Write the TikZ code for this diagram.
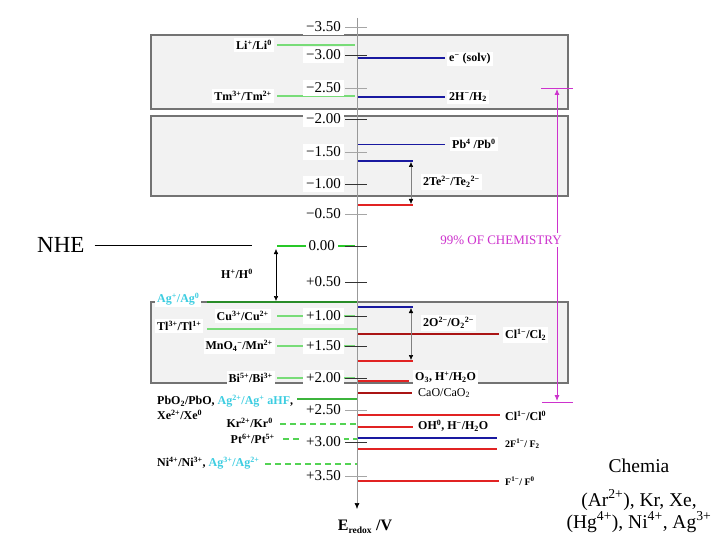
\documentclass[tikz,border=0pt]{standalone}
\usepackage{fontspec}
\setmainfont{Liberation Serif}
\usetikzlibrary{arrows.meta}
\definecolor{grn}{RGB}{120,220,120}
\definecolor{dgrn}{RGB}{40,140,40}
\definecolor{hgrn}{RGB}{40,200,40}
\definecolor{mgrn}{RGB}{60,180,60}
\definecolor{nblue}{RGB}{25,25,160}
\definecolor{rred}{RGB}{225,35,35}
\definecolor{dred}{RGB}{170,20,20}
\definecolor{cyn}{RGB}{60,205,225}
\definecolor{mag}{RGB}{205,50,205}
\definecolor{boxfill}{RGB}{242,242,242}
\definecolor{boxline}{RGB}{115,115,115}
\newcommand\lblfont{\fontsize{12}{13}\selectfont\bfseries}
\newcommand\smlfont{\fontsize{10}{12}\selectfont\bfseries}
\tikzset{
  bandbox/.style={draw=boxline, fill=boxfill, line width=1.1pt},
  lbl/.style={font=\lblfont, fill=white, inner sep=2pt},
  slbl/.style={font=\smlfont, fill=white, inner sep=2pt},
  tlbl/.style={font=\fontsize{15}{16}\selectfont, fill=white, inner sep=3pt, anchor=east},
  gline/.style={draw=grn, line width=1.3pt},
  gdash/.style={draw=hgrn!80, line width=1.2pt, dash pattern=on 6pt off 4pt},
  bline/.style={draw=nblue, line width=1.3pt},
  rline/.style={draw=rred, line width=1.3pt},
  drline/.style={draw=dred, line width=1.3pt},
  tickmaj/.style={draw=black!80, line width=0.8pt},
  tickmin/.style={draw=black!35, line width=0.8pt},
  dblarrow/.style={draw=gray, line width=0.5pt, {Latex[length=5pt,width=4.5pt,color=black]}-{Latex[length=5pt,width=4.5pt,color=black]}},
}
\begin{document}
\begin{tikzpicture}[x=1pt,y=-1pt]
\useasboundingbox (0,0) rectangle (720,540);
% band boxes
\draw[bandbox] (151,35) rectangle (568,109);
\draw[bandbox] (151,116) rectangle (568,196);
\draw[bandbox] (151,302) rectangle (568,383);

% magenta range
\draw[mag, line width=0.8pt] (541,88) -- (573,88);
\draw[mag, line width=0.8pt] (542,402) -- (573,402);
\draw[mag, line width=0.8pt, {Latex[length=6pt,width=5pt]}-{Latex[length=6pt,width=5pt]}] (557,89) -- (557,401);
\node[font=\fontsize{13}{15}\selectfont, text=mag, fill=white, inner sep=3pt] (chem99) at (501,240) {99\% OF CHEMISTRY};

% left (green) levels
\draw[gline] (277,45) -- (355,45);
\draw[gline] (277,96) -- (355,96);
\draw[draw=hgrn, line width=2pt] (277,246) -- (355,246);
\draw[draw=dgrn, line width=1.3pt] (207,302) -- (357,302);
\draw[gline] (277,316) -- (355,316);
\draw[gline] (207,329) -- (357,329);
\draw[gline] (277,346) -- (355,346);
\draw[gline] (277,378) -- (355,378);
\draw[draw=mgrn, line width=1.3pt] (297,399) -- (357,399);
\draw[gdash] (280,424) -- (357,424);
\draw[gdash] (283,439) -- (357,439);
\draw[gdash] (265,464) -- (357,464);

% right levels
\draw[bline] (358,58) -- (445,58);
\draw[bline] (358,97) -- (445,97);
\draw[draw=nblue, line width=1pt] (358,145) -- (445,145);
\draw[bline] (358,161) -- (413,161);
\draw[rline] (358,205) -- (413,205);
\draw[bline] (358,307) -- (413,307);
\draw[drline] (358,334) -- (499,334);
\draw[rline] (358,361) -- (413,361);
\draw[rline] (357,381) -- (409,381);
\draw[draw=dred, line width=2pt] (357,393) -- (412,393);
\draw[rline] (358,415) -- (500,415);
\draw[rline] (358,427) -- (413,427);
\draw[bline] (357,438) -- (497,438);
\draw[rline] (357,449) -- (497,449);
\draw[rline] (358,481) -- (499,481);

% double arrows
\draw[dblarrow] (411,162) -- (411,204);
\draw[dblarrow] (411,308) -- (411,360);
\draw[draw=black, line width=0.5pt, {Latex[length=5pt,width=4.5pt]}-{Latex[length=5pt,width=4.5pt]}] (276,249) -- (276,301);

% axis
\draw[draw=black!40, line width=0.6pt, -{Latex[length=6pt,width=5pt,color=black]}] (357,18) -- (357,509);
\foreach \yy in {55,119,184,246,282,316,346,378,442}
  \draw[tickmaj] (345,\yy) -- (367,\yy);
\foreach \yy in {27,88,152,214,410,476}
  \draw[tickmin] (345,\yy) -- (367,\yy);

% tick labels
\node[tlbl] (t1) at (344,27) {−3.50};
\node[tlbl] (t2) at (344,55) {−3.00};
\node[tlbl] (t3) at (344,88) {−2.50};
\node[tlbl] (t4) at (344,119) {−2.00};
\node[tlbl] (t5) at (344,152) {−1.50};
\node[tlbl] (t6) at (344,184) {−1.00};
\node[tlbl] (t7) at (344,214) {−0.50};
\node[tlbl] (t8) at (338,246) {0.00};
\node[tlbl] (t9) at (344,282) {+0.50};
\node[tlbl] (t10) at (344,316) {+1.00};
\node[tlbl] (t11) at (344,346) {+1.50};
\node[tlbl] (t12) at (344,378) {+2.00};
\node[tlbl] (t13) at (344,410) {+2.50};
\node[tlbl] (t14) at (344,442) {+3.00};
\node[tlbl] (t15) at (344,476) {+3.50};

% left labels
\node[lbl, anchor=east] (li) at (274,45) {Li\textsuperscript{+}/Li\textsuperscript{0}};
\node[lbl, anchor=east] (tm) at (274,96) {Tm\textsuperscript{3+}/Tm\textsuperscript{2+}};
\node[lbl, fill=none] (hh) at (237,274) {H\textsuperscript{+}/H\textsuperscript{0}};
\node[lbl, anchor=west, text=cyn] (ag1) at (155,299) {Ag\textsuperscript{+}/Ag\textsuperscript{0}};
\node[lbl, anchor=east] (cu) at (271,316) {Cu\textsuperscript{3+}/Cu\textsuperscript{2+}};
\node[lbl, anchor=west] (tl) at (155,326) {Tl\textsuperscript{3+}/Tl\textsuperscript{1+}};
\node[lbl, anchor=east] (mn) at (275,346) {MnO\textsubscript{4}\textsuperscript{−}/Mn\textsuperscript{2+}};
\node[lbl, anchor=east] (bi) at (275,378) {Bi\textsuperscript{5+}/Bi\textsuperscript{3+}};
\node[lbl, anchor=west, inner sep=1pt] (pb2) at (156,401) {PbO\textsubscript{2}/PbO, \textcolor{cyn}{Ag\textsuperscript{2+}/Ag\textsuperscript{+} aHF},};
\node[lbl, anchor=west, inner sep=1pt, fill=none] (xe) at (156,415) {Xe\textsuperscript{2+}/Xe\textsuperscript{0}};
\node[lbl, anchor=east] (kr) at (275,423) {Kr\textsuperscript{2+}/Kr\textsuperscript{0}};
\node[lbl, anchor=east, fill=none] (pt) at (277,439) {Pt\textsuperscript{6+}/Pt\textsuperscript{5+}};
\node[lbl, anchor=west] (ni) at (155,463) {Ni\textsuperscript{4+}/Ni\textsuperscript{3+}, \textcolor{cyn}{Ag\textsuperscript{3+}/Ag\textsuperscript{2+}}};

% right labels
\node[lbl, anchor=west] (es) at (447,59) {e\textsuperscript{−} (solv)};
\node[lbl, anchor=west] (hm) at (447,97) {2H\textsuperscript{−}/H\textsubscript{2}};
\node[lbl, anchor=west] (pb4) at (450,144) {Pb\textsuperscript{4} /Pb\textsuperscript{0}};
\node[lbl, anchor=west] (te) at (421,182) {2Te\textsuperscript{2−}/Te\textsubscript{2}\textsuperscript{2−}};
\node[lbl, anchor=west] (oo) at (421,323) {2O\textsuperscript{2−}/O\textsubscript{2}\textsuperscript{2−}};
\node[lbl, anchor=west] (cl2) at (503,335) {Cl\textsuperscript{1−}/Cl\textsubscript{2}};
\node[lbl, anchor=west] (o3) at (413,377) {O\textsubscript{3}, H\textsuperscript{+}/H\textsubscript{2}O};
\node[lbl, anchor=west, font=\fontsize{12}{13}\selectfont] (cao) at (416,393) {CaO/CaO\textsubscript{2}};
\node[lbl, anchor=west] (cl0) at (503,416) {Cl\textsuperscript{1−}/Cl\textsuperscript{0}};
\node[lbl, anchor=west] (oh) at (416,426) {OH\textsuperscript{0}, H\textsuperscript{−}/H\textsubscript{2}O};
\node[slbl, anchor=west] (f2) at (503,444) {2F\textsuperscript{1−}/ F\textsubscript{2}};
\node[slbl, anchor=west] (f0) at (503,481) {F\textsuperscript{1−}/ F\textsuperscript{0}};

% axis title
\node[font=\fontsize{16}{17}\selectfont\bfseries] (ax) at (365,527) {E\textsubscript{\fontsize{9.5}{10}\selectfont redox} /V};

% NHE
\node[font=\fontsize{23}{24}\selectfont, anchor=west, inner sep=0pt] (nhe) at (37,245) {NHE};
\coordinate (nheend) at (252,245);
\draw[line width=0.9pt] (nhe.east) ++(10,0) -- (nheend);

% Chemia
\node[font=\fontsize{19.5}{21}\selectfont] (ch1) at (639,466) {Chemia};
\node[font=\fontsize{19.5}{21}\selectfont] (ch2) at (639,500) {(Ar\textsuperscript{2+}), Kr, Xe,};
\node[font=\fontsize{19.5}{21}\selectfont] (ch3) at (639,522) {(Hg\textsuperscript{4+}), Ni\textsuperscript{4+}, Ag\textsuperscript{3+}};
\end{tikzpicture}
\end{document}
